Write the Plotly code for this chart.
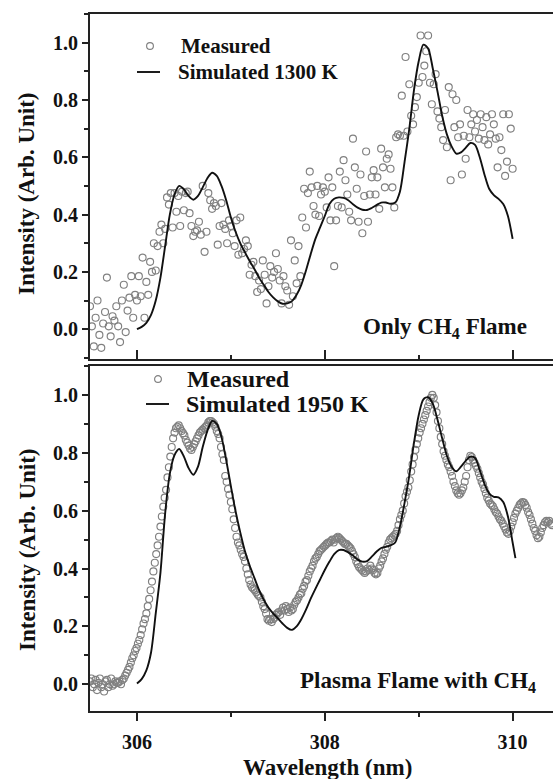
import plotly.graph_objects as go

# ---------------- data ----------------
# Top panel: only CH4 flame
top_meas_x = [
    305.50, 305.52, 305.54, 305.56, 305.58, 305.60, 305.62, 305.64, 305.66, 305.68,
    305.70, 305.72, 305.74, 305.76, 305.78, 305.80, 305.82, 305.84, 305.86, 305.88,
    305.90, 305.92, 305.94, 305.96, 305.98, 306.00,
    306.02, 306.04, 306.06, 306.08, 306.10, 306.12, 306.14, 306.16, 306.18, 306.20,
    306.22, 306.24, 306.26, 306.28, 306.30, 306.32, 306.34, 306.36, 306.38, 306.40,
    306.42, 306.44, 306.46, 306.48, 306.50, 306.52, 306.54, 306.56, 306.58, 306.60,
    306.62, 306.64, 306.66, 306.68, 306.70, 306.72, 306.74, 306.76, 306.78, 306.80,
    306.82, 306.84, 306.86, 306.88, 306.90, 306.92, 306.94, 306.96, 306.98, 307.00,
    307.02, 307.04, 307.06, 307.08, 307.10, 307.12, 307.14, 307.16, 307.18, 307.20,
    307.22, 307.24, 307.26, 307.28, 307.30, 307.32, 307.34, 307.36, 307.38, 307.40,
    307.42, 307.44, 307.46, 307.48, 307.50, 307.52, 307.54, 307.56, 307.58, 307.60,
    307.62, 307.64, 307.66, 307.68, 307.70, 307.72, 307.74, 307.76, 307.78, 307.80,
    307.82, 307.84, 307.86, 307.88, 307.90, 307.92, 307.94, 307.96, 307.98, 308.00,
    308.02, 308.04, 308.06, 308.08, 308.10, 308.12, 308.14, 308.16, 308.18, 308.20,
    308.22, 308.24, 308.26, 308.28, 308.30, 308.32, 308.34, 308.36, 308.38, 308.40,
    308.42, 308.44, 308.46, 308.48, 308.50, 308.52, 308.54, 308.56, 308.58, 308.60,
    308.62, 308.64, 308.66, 308.68, 308.70, 308.72, 308.74, 308.76, 308.78, 308.80,
    308.82, 308.84, 308.86, 308.88, 308.90, 308.92, 308.94, 308.96, 308.98, 309.00,
    309.02, 309.04, 309.06, 309.08, 309.10, 309.12, 309.14, 309.16, 309.18, 309.20,
    309.22, 309.24, 309.26, 309.28, 309.30, 309.32, 309.34, 309.36, 309.38, 309.40,
    309.42, 309.44, 309.46, 309.48, 309.50, 309.52, 309.54, 309.56, 309.58, 309.60,
    309.62, 309.64, 309.66, 309.68, 309.70, 309.72, 309.74, 309.76, 309.78, 309.80,
    309.82, 309.84, 309.86, 309.88, 309.90, 309.92, 309.94, 309.96, 309.98, 310.00,
]
top_meas_y = [
    0.08, 0.01, -0.06, 0.04, 0.10, -0.02, -0.065, 0.02, 0.06, 0.18,
    0.01, -0.025, 0.045, 0.03, 0.08, 0.01, -0.045, 0.10, 0.155, -0.01,
    0.065, 0.11, 0.185, 0.04, 0.12, 0.10,
    0.185, 0.115, 0.25, 0.04, 0.165, 0.12, 0.235, 0.20, 0.30, 0.205,
    0.29, 0.34, 0.365, 0.30, 0.35, 0.46, 0.435, 0.475, 0.355, 0.475,
    0.41, 0.465, 0.36, 0.48, 0.415, 0.475, 0.48, 0.405, 0.36, 0.325,
    0.34, 0.345, 0.375, 0.33, 0.50, 0.27, 0.34, 0.475, 0.45, 0.42,
    0.44, 0.43, 0.295, 0.36, 0.44, 0.365, 0.35, 0.30, 0.38, 0.36,
    0.335, 0.29, 0.38, 0.26, 0.39, 0.265, 0.28, 0.31, 0.29, 0.19,
    0.225, 0.235, 0.185, 0.13, 0.17, 0.14, 0.24, 0.19, 0.09, 0.15,
    0.22, 0.18, 0.20, 0.265, 0.21, 0.17, 0.09, 0.185, 0.15, 0.135,
    0.085, 0.31, 0.115, 0.24, 0.16, 0.29, 0.185, 0.39, 0.49, 0.355,
    0.475, 0.55, 0.495, 0.43, 0.40, 0.50, 0.395, 0.47, 0.495, 0.48,
    0.425, 0.53, 0.38, 0.495, 0.22, 0.38, 0.43, 0.55, 0.425, 0.59,
    0.52, 0.47, 0.41, 0.38, 0.665, 0.565, 0.49, 0.375, 0.54, 0.335,
    0.465, 0.62, 0.375, 0.47, 0.53, 0.555, 0.47, 0.53, 0.42, 0.63,
    0.565, 0.495, 0.595, 0.61, 0.56, 0.495, 0.425, 0.67, 0.68, 0.675,
    0.815, 0.675, 0.95, 0.69, 0.855, 0.745, 0.715, 0.775, 0.81, 0.86,
    1.025, 0.88, 0.92, 0.97, 1.025, 0.86, 0.785, 0.855, 0.89, 0.76,
    0.735, 0.705, 0.66, 0.765, 0.635, 0.845, 0.52, 0.82, 0.705, 0.80,
    0.67, 0.715, 0.54, 0.675, 0.595, 0.765, 0.67, 0.715, 0.75, 0.69,
    0.73, 0.665, 0.75, 0.705, 0.66, 0.74, 0.645, 0.68, 0.75, 0.715,
    0.665, 0.565, 0.67, 0.625, 0.75, 0.535, 0.585, 0.75, 0.70, 0.56,
]

top_sim_x = [
    306.00, 306.05, 306.10, 306.15, 306.20, 306.25, 306.30, 306.35, 306.40, 306.45,
    306.50, 306.55, 306.60, 306.65, 306.70, 306.75, 306.80, 306.85, 306.90, 306.95,
    307.00, 307.05, 307.10, 307.15, 307.20, 307.25, 307.30, 307.35, 307.40, 307.45,
    307.50, 307.55, 307.60, 307.65, 307.70, 307.75, 307.80, 307.85, 307.90, 307.95,
    308.00, 308.05, 308.10, 308.15, 308.20, 308.25, 308.30, 308.35, 308.40, 308.45,
    308.50, 308.55, 308.60, 308.65, 308.70, 308.75, 308.80, 308.85, 308.90, 308.95,
    309.00, 309.05, 309.10, 309.15, 309.20, 309.25, 309.30, 309.35, 309.40, 309.45,
    309.50, 309.55, 309.60, 309.65, 309.70, 309.75, 309.80, 309.85, 309.90, 309.95,
    310.00,
]
top_sim_y = [
    0.000, 0.008, 0.022, 0.050, 0.100, 0.180, 0.290, 0.400, 0.470, 0.500,
    0.488, 0.465, 0.452, 0.465, 0.495, 0.527, 0.546, 0.535, 0.500, 0.450,
    0.390, 0.340, 0.300, 0.268, 0.238, 0.210, 0.180, 0.155, 0.130, 0.111,
    0.097, 0.089, 0.090, 0.098, 0.120, 0.155, 0.205, 0.262, 0.315, 0.355,
    0.395, 0.437, 0.455, 0.460, 0.458, 0.450, 0.436, 0.424, 0.417, 0.416,
    0.423, 0.433, 0.442, 0.442, 0.438, 0.442, 0.480, 0.585, 0.700, 0.835,
    0.935, 0.993, 0.980, 0.910, 0.830, 0.745, 0.680, 0.638, 0.613, 0.617,
    0.633, 0.650, 0.643, 0.600, 0.540, 0.490, 0.468, 0.455, 0.437, 0.395,
    0.315,
]

# Bottom panel: plasma flame with CH4
bot_meas_x = [
    305.500, 305.515, 305.530, 305.545, 305.560, 305.575, 305.590, 305.605, 305.620, 305.635,
    305.650, 305.665, 305.680, 305.695, 305.710, 305.725, 305.740, 305.755, 305.770, 305.785,
    305.800, 305.815, 305.830, 305.845, 305.860, 305.875, 305.890, 305.905, 305.920, 305.935,
    305.950, 305.965, 305.980, 305.995, 306.010, 306.025, 306.040, 306.055, 306.070, 306.085,
    306.100, 306.115, 306.130, 306.145, 306.160, 306.175, 306.190, 306.205, 306.220, 306.235,
    306.250, 306.265, 306.280, 306.295, 306.310, 306.325, 306.340, 306.355, 306.370, 306.385,
    306.400, 306.415, 306.430, 306.445, 306.460, 306.475, 306.490, 306.505, 306.520, 306.535,
    306.550, 306.565, 306.580, 306.595, 306.610, 306.625, 306.640, 306.655, 306.670, 306.685,
    306.700, 306.715, 306.730, 306.745, 306.760, 306.775, 306.790, 306.805, 306.820, 306.835,
    306.850, 306.865, 306.880, 306.895, 306.910, 306.925, 306.940, 306.955, 306.970, 306.985,
    307.000, 307.015, 307.030, 307.045, 307.060, 307.075, 307.090, 307.105, 307.120, 307.135,
    307.150, 307.165, 307.180, 307.195, 307.210, 307.225, 307.240, 307.255, 307.270, 307.285,
    307.300, 307.315, 307.330, 307.345, 307.360, 307.375, 307.390, 307.405, 307.420, 307.435,
    307.450, 307.465, 307.480, 307.495, 307.510, 307.525, 307.540, 307.555, 307.570, 307.585,
    307.600, 307.615, 307.630, 307.645, 307.660, 307.675, 307.690, 307.705, 307.720, 307.735,
    307.750, 307.765, 307.780, 307.795, 307.810, 307.825, 307.840, 307.855, 307.870, 307.885,
    307.900, 307.915, 307.930, 307.945, 307.960, 307.975, 307.990, 308.005, 308.020, 308.035,
    308.050, 308.065, 308.080, 308.095, 308.110, 308.125, 308.140, 308.155, 308.170, 308.185,
    308.200, 308.215, 308.230, 308.245, 308.260, 308.275, 308.290, 308.305, 308.320, 308.335,
    308.350, 308.365, 308.380, 308.395, 308.410, 308.425, 308.440, 308.455, 308.470, 308.485,
    308.500, 308.515, 308.530, 308.545, 308.560, 308.575, 308.590, 308.605, 308.620, 308.635,
    308.650, 308.665, 308.680, 308.695, 308.710, 308.725, 308.740, 308.755, 308.770, 308.785,
    308.800, 308.815, 308.830, 308.845, 308.860, 308.875, 308.890, 308.905, 308.920, 308.935,
    308.950, 308.965, 308.980, 308.995, 309.010, 309.025, 309.040, 309.055, 309.070, 309.085,
    309.100, 309.115, 309.130, 309.145, 309.160, 309.175, 309.190, 309.205, 309.220, 309.235,
    309.250, 309.265, 309.280, 309.295, 309.310, 309.325, 309.340, 309.355, 309.370, 309.385,
    309.400, 309.415, 309.430, 309.445, 309.460, 309.475, 309.490, 309.505, 309.520, 309.535,
    309.550, 309.565, 309.580, 309.595, 309.610, 309.625, 309.640, 309.655, 309.670, 309.685,
    309.700, 309.715, 309.730, 309.745, 309.760, 309.775, 309.790, 309.805, 309.820, 309.835,
    309.850, 309.865, 309.880, 309.895, 309.910, 309.925, 309.940, 309.955, 309.970, 309.985,
    310.000, 310.015, 310.030, 310.045, 310.060, 310.075, 310.090, 310.105, 310.120, 310.135,
    310.150, 310.165, 310.180, 310.195, 310.210, 310.225, 310.240, 310.255, 310.270, 310.285,
    310.300, 310.315, 310.330, 310.345, 310.360, 310.375, 310.390, 310.405, 310.420,
]
bot_meas_y = [
    0.01, 0.02, -0.01, 0.0, 0.015, -0.02, 0.005, 0.02, -0.01, 0.0,
    -0.025, 0.01, 0.015, -0.01, 0.0, 0.02, -0.005, 0.0, 0.01, 0.005,
    0.005, 0.01, 0.0, 0.015, 0.02, 0.03, 0.04, 0.05, 0.06, 0.075,
    0.09, 0.10, 0.115, 0.125, 0.14, 0.153, 0.17, 0.19, 0.21, 0.225,
    0.245, 0.27, 0.295, 0.325, 0.355, 0.39, 0.42, 0.45, 0.48, 0.51,
    0.545, 0.58, 0.614, 0.645, 0.672, 0.715, 0.75, 0.787, 0.82, 0.85,
    0.87, 0.885, 0.89, 0.895, 0.885, 0.875, 0.868, 0.86, 0.845, 0.835,
    0.825, 0.815, 0.81, 0.82, 0.83, 0.84, 0.85, 0.86, 0.87, 0.875,
    0.88, 0.885, 0.89, 0.895, 0.905, 0.91, 0.91, 0.905, 0.90, 0.89,
    0.875, 0.865, 0.85, 0.82, 0.795, 0.775, 0.72, 0.70, 0.675, 0.655,
    0.63, 0.605, 0.57, 0.54, 0.51, 0.49, 0.48, 0.465, 0.45, 0.44,
    0.425, 0.40, 0.38, 0.36, 0.345, 0.335, 0.33, 0.325, 0.318, 0.31,
    0.305, 0.30, 0.285, 0.27, 0.26, 0.245, 0.225, 0.22, 0.225, 0.215,
    0.225, 0.23, 0.24, 0.245, 0.25, 0.24, 0.255, 0.265, 0.255, 0.27,
    0.26, 0.25, 0.265, 0.255, 0.26, 0.275, 0.285, 0.29, 0.30, 0.31,
    0.315, 0.33, 0.34, 0.355, 0.36, 0.375, 0.39, 0.40, 0.41, 0.425,
    0.435, 0.44, 0.45, 0.46, 0.465, 0.47, 0.475, 0.48, 0.485, 0.49,
    0.49, 0.495, 0.50, 0.49, 0.50, 0.505, 0.51, 0.505, 0.50, 0.495,
    0.49, 0.485, 0.485, 0.48, 0.475, 0.47, 0.46, 0.45, 0.44, 0.425,
    0.415, 0.405, 0.40, 0.395, 0.39, 0.385, 0.39, 0.40, 0.395, 0.41,
    0.40, 0.395, 0.385, 0.38, 0.385, 0.40, 0.41, 0.425, 0.435, 0.45,
    0.465, 0.475, 0.49, 0.50, 0.505, 0.51, 0.515, 0.52, 0.53, 0.55,
    0.57, 0.585, 0.60, 0.625, 0.65, 0.665, 0.68, 0.705, 0.735, 0.76,
    0.785, 0.81, 0.83, 0.85, 0.87, 0.885, 0.90, 0.915, 0.93, 0.945,
    0.96, 0.975, 0.99, 1.0, 0.99, 0.965, 0.94, 0.91, 0.885, 0.855,
    0.83, 0.805, 0.79, 0.775, 0.76, 0.75, 0.735, 0.72, 0.70, 0.685,
    0.67, 0.66, 0.655, 0.66, 0.67, 0.68, 0.70, 0.72, 0.75, 0.775,
    0.79, 0.785, 0.775, 0.765, 0.755, 0.745, 0.73, 0.715, 0.70, 0.69,
    0.675, 0.66, 0.645, 0.635, 0.625, 0.62, 0.615, 0.605, 0.595, 0.59,
    0.58, 0.57, 0.565, 0.555, 0.545, 0.535, 0.525, 0.52, 0.53, 0.545,
    0.56, 0.575, 0.59, 0.60, 0.61, 0.62, 0.625, 0.63, 0.628, 0.62,
    0.61, 0.595, 0.585, 0.57, 0.555, 0.54, 0.53, 0.515, 0.505, 0.51,
    0.525, 0.54, 0.55, 0.56, 0.565, 0.56, 0.565, 0.555, 0.55,
]

bot_sim_x = [
    306.00, 306.05, 306.10, 306.15, 306.20, 306.25, 306.30, 306.35, 306.40, 306.45,
    306.50, 306.55, 306.60, 306.65, 306.70, 306.75, 306.80, 306.85, 306.90, 306.95,
    307.00, 307.05, 307.10, 307.15, 307.20, 307.25, 307.30, 307.35, 307.40, 307.45,
    307.50, 307.55, 307.60, 307.65, 307.70, 307.75, 307.80, 307.85, 307.90, 307.95,
    308.00, 308.05, 308.10, 308.15, 308.20, 308.25, 308.30, 308.35, 308.40, 308.45,
    308.50, 308.55, 308.60, 308.65, 308.70, 308.75, 308.80, 308.85, 308.90, 308.95,
    309.00, 309.05, 309.10, 309.15, 309.20, 309.25, 309.30, 309.35, 309.40, 309.45,
    309.50, 309.55, 309.60, 309.65, 309.70, 309.75, 309.80, 309.85, 309.90, 309.95,
    310.00, 310.03,
]
bot_sim_y = [
    0.003, 0.018, 0.048, 0.110, 0.245, 0.385, 0.590, 0.728, 0.792, 0.813,
    0.787, 0.747, 0.724, 0.752, 0.820, 0.876, 0.910, 0.900, 0.855, 0.775,
    0.685, 0.598, 0.525, 0.460, 0.410, 0.368, 0.326, 0.292, 0.265, 0.245,
    0.228, 0.210, 0.195, 0.188, 0.200, 0.225, 0.258, 0.296, 0.330, 0.362,
    0.395, 0.424, 0.450, 0.464, 0.464, 0.456, 0.445, 0.431, 0.424, 0.426,
    0.441, 0.458, 0.471, 0.475, 0.480, 0.490, 0.545, 0.628, 0.722, 0.835,
    0.930, 0.985, 0.992, 0.970, 0.915, 0.850, 0.790, 0.752, 0.736, 0.752,
    0.772, 0.787, 0.782, 0.740, 0.693, 0.660, 0.648, 0.646, 0.630, 0.580,
    0.490, 0.436,
]

x_range = [305.5, 310.43]
top_y_range = [-0.104, 1.10]
bot_y_range = [-0.0906, 1.10]

legend_top = ["Measured", "Simulated 1300 K"]
legend_bot = ["Measured", "Simulated 1950 K"]

# ---------------- styling ----------------
W, H = 553, 779
ML = 90
PW = W - ML
FONT = "Liberation Serif"
AX = "#222222"
MCOL = "#808080"
LCOL = "#111111"


def py(px):  # pixel row -> paper fraction
    return 1 - px / H


def pxx(px):  # pixel column -> plot-area paper fraction
    return (px - ML) / PW


top_dom = [py(359), py(14)]
bot_dom = [py(710.5), py(366)]

marker_style = dict(symbol="circle-open", size=7, color=MCOL, line=dict(width=1.15, color=MCOL))

fig = go.Figure()
fig.add_trace(go.Scatter(x=top_meas_x, y=top_meas_y, mode="markers", name=legend_top[0],
                         marker=marker_style, xaxis="x", yaxis="y"))
fig.add_trace(go.Scatter(x=top_sim_x, y=top_sim_y, mode="lines", name=legend_top[1],
                         line=dict(color=LCOL, width=1.9, shape="spline", smoothing=0.8),
                         xaxis="x", yaxis="y"))
fig.add_trace(go.Scatter(x=bot_meas_x, y=bot_meas_y, mode="markers", name=legend_bot[0],
                         marker=marker_style, xaxis="x2", yaxis="y2"))
fig.add_trace(go.Scatter(x=bot_sim_x, y=bot_sim_y, mode="lines", name=legend_bot[1],
                         line=dict(color=LCOL, width=1.9, shape="spline", smoothing=0.8),
                         xaxis="x2", yaxis="y2"))

tickfont = dict(family=FONT, size=20, color="#111111", weight="bold")

common_x = dict(range=x_range, showline=True, linecolor=AX, linewidth=2, mirror=True,
                showgrid=False, zeroline=False, tick0=306, dtick=2, tickcolor=AX,
                tickwidth=1.5, automargin=False)
fig.update_layout(
    xaxis=dict(common_x, anchor="y", domain=[0, 1], ticks="inside", ticklen=9,
               showticklabels=False,
               minor=dict(dtick=1, tick0=306, ticks="inside", ticklen=4, tickcolor=AX, tickwidth=1.5)),
    xaxis2=dict(common_x, anchor="y2", domain=[0, 1], matches="x", ticks="outside", ticklen=8,
                showticklabels=True, tickfont=tickfont, ticklabelstandoff=4,
                minor=dict(dtick=1, tick0=306, ticks="outside", ticklen=4, tickcolor=AX, tickwidth=1.5)),
)
common_y = dict(showline=True, linecolor=AX, linewidth=2, mirror=False, showgrid=False,
                zeroline=False, ticks="outside", ticklen=6, tick0=0, dtick=0.2,
                tickformat=".1f", tickcolor=AX, tickwidth=1.5, tickfont=tickfont,
                automargin=False,
                minor=dict(dtick=0.1, tick0=0, ticks="outside", ticklen=4, tickcolor=AX, tickwidth=1.5))
fig.update_layout(
    yaxis=dict(common_y, anchor="x", domain=top_dom, range=top_y_range),
    yaxis2=dict(common_y, anchor="x2", domain=bot_dom, range=bot_y_range),
)

ann_font = dict(family=FONT, size=23, color="#111111", weight="bold")
annotations = [
    dict(text="Only CH<sub>4</sub> Flame", x=pxx(529), y=py(328),
         xanchor="right", yanchor="middle", font=ann_font),
    dict(text="Plasma Flame with CH<sub>4</sub>", x=pxx(538), y=py(682),
         xanchor="right", yanchor="middle", font=ann_font),
    dict(text="Intensity (Arb. Unit)", x=pxx(27), y=py(194),
         xanchor="center", yanchor="middle", textangle=-90, font=ann_font),
    dict(text="Intensity (Arb. Unit)", x=pxx(27), y=py(550),
         xanchor="center", yanchor="middle", textangle=-90, font=ann_font),
    dict(text="Wavelength (nm)", x=pxx(327), y=py(767),
         xanchor="center", yanchor="middle", font=ann_font),
]

# legend (drawn as swatches + labels so that placement matches the original)
shapes = []
R = 3.4


def legend_item(kind, label, sx0, sx1, ypx, tx, size):
    f = dict(family=FONT, size=size, color="#111111", weight="bold")
    annotations.append(dict(text=label, x=pxx(tx), y=py(ypx), xanchor="left",
                            yanchor="middle", font=f))
    if kind == "marker":
        cx = (sx0 + sx1) / 2
        shapes.append(dict(type="circle", xref="paper", yref="paper",
                           x0=pxx(cx - R), x1=pxx(cx + R),
                           y0=py(ypx + R), y1=py(ypx - R),
                           line=dict(color=MCOL, width=1.15)))
    else:
        shapes.append(dict(type="line", xref="paper", yref="paper",
                           x0=pxx(sx0), x1=pxx(sx1), y0=py(ypx), y1=py(ypx),
                           line=dict(color=LCOL, width=1.9)))


legend_item("marker", legend_top[0], 150, 150, 46, 179, 21)
legend_item("line", legend_top[1], 137, 160, 72, 176, 21)
legend_item("marker", legend_bot[0], 158, 158, 379, 185, 24)
legend_item("line", legend_bot[1], 146, 169, 404, 184, 24)

for a in annotations:
    a.update(xref="paper", yref="paper", showarrow=False)

fig.update_layout(
    annotations=annotations, shapes=shapes,
    width=W, height=H, margin=dict(l=ML, r=0, t=0, b=0),
    paper_bgcolor="white", plot_bgcolor="white", showlegend=False,
)

fig.write_html("out.html")
